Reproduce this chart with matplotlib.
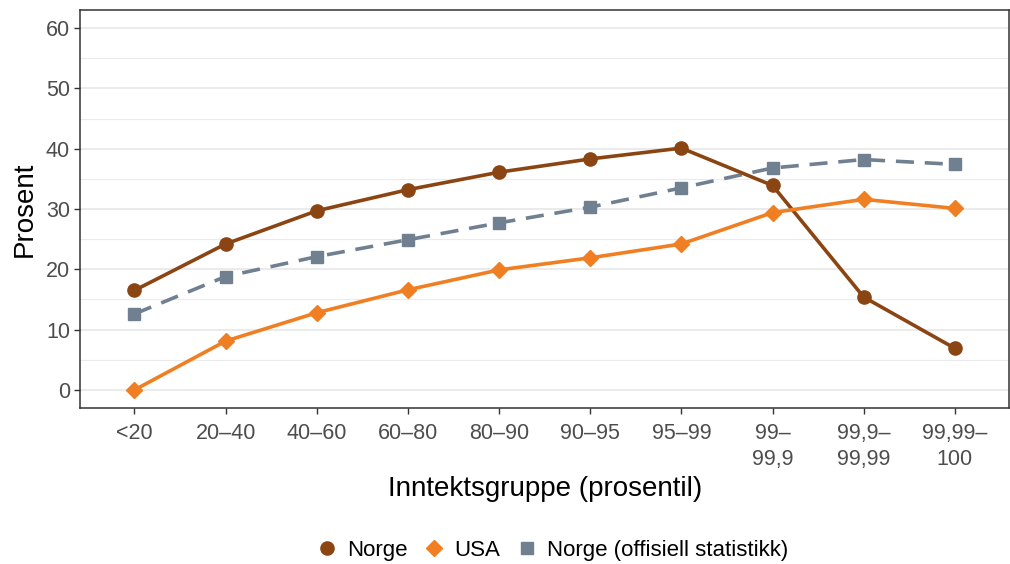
import matplotlib.pyplot as plt
from matplotlib.lines import Line2D

plt.rcParams['font.family'] = ['Liberation Sans', 'DejaVu Sans']

# Data
groups = ["<20", "20–40", "40–60", "60–80", "80–90", "90–95", "95–99",
          "99–\n99,9", "99,9–\n99,99", "99,99–\n100"]
norge = [16.5, 24.2, 29.7, 33.2, 36.1, 38.3, 40.1, 33.9, 15.4, 6.9]
usa = [0.0, 8.1, 12.8, 16.6, 19.9, 21.9, 24.2, 29.4, 31.6, 30.1]
norge_off = [12.6, 18.8, 22.1, 24.9, 27.7, 30.3, 33.5, 36.8, 38.2, 37.4]

c_norge = "#8B4513"
c_usa = "#F07F23"
c_off = "#708090"

fig = plt.figure(figsize=(10.1, 5.64), dpi=100)
ax = fig.add_axes([0.079, 0.2766, 0.9205, 0.7057])

x = list(range(len(groups)))
ax.plot(x, norge_off, color=c_off, lw=2.6, ls=(0, (5, 3)), marker="s", ms=9, zorder=3)
ax.plot(x, norge, color=c_norge, lw=2.6, marker="o", ms=9.5, zorder=4)
ax.plot(x, usa, color=c_usa, lw=2.6, marker="D", ms=8, zorder=4)

ax.set_xlim(-0.6, 9.6)
ax.set_ylim(-3, 63)
ax.set_xticks(x)
ax.set_xticklabels(groups, linespacing=1.3)
ax.set_yticks(range(0, 61, 10))
ax.set_yticks(range(5, 60, 10), minor=True)
ax.grid(axis="y", which="major", color="#EBEBEB", lw=1.4, zorder=0)
ax.grid(axis="y", which="minor", color="#EBEBEB", lw=0.8, zorder=0)
ax.set_axisbelow(True)
ax.tick_params(axis="both", which="major", length=4, width=1, color="#333333",
               labelsize=15.5, labelcolor="#4D4D4D", pad=3)
ax.tick_params(axis="x", which="major", pad=7)
ax.tick_params(axis="y", which="minor", length=0)
for s in ax.spines.values():
    s.set_color("#333333")
    s.set_linewidth(1.1)

ax.set_xlabel("Inntektsgruppe (prosentil)", fontsize=20, labelpad=4)
ax.set_ylabel("Prosent", fontsize=20, labelpad=6)

handles = [
    Line2D([], [], color=c_norge, marker="o", ls="none", ms=9.5, label="Norge"),
    Line2D([], [], color=c_usa, marker="D", ls="none", ms=8, label="USA"),
    Line2D([], [], color=c_off, marker="s", ls="none", ms=9, label="Norge (offisiell statistikk)"),
]
fig.legend(handles=handles, loc="center", bbox_to_anchor=(0.5455, 0.024), ncol=3,
           frameon=False, fontsize=16, handletextpad=0.3, columnspacing=0.6,
           handlelength=1.2)

fig.savefig("out.png", dpi=100)
